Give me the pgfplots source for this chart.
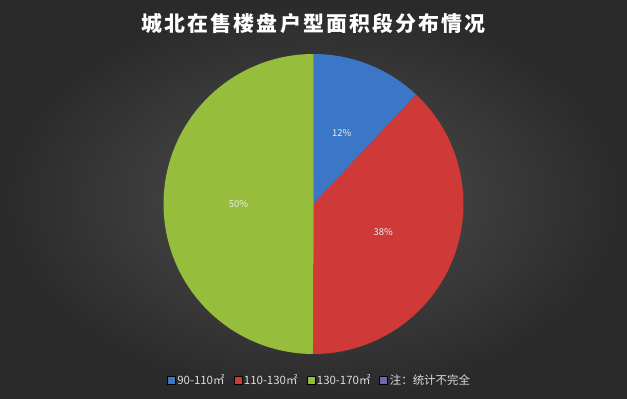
\documentclass[border=0pt]{standalone}
\usepackage{fontspec}
\setmainfont{Noto Sans CJK SC}
\newfontfamily\titlefont[LetterSpace=10]{Noto Sans CJK SC}
\usepackage{pgfplots}
\usepackage{pgfplotstable}
\pgfplotsset{compat=1.18}
\definecolor{pieblue}{RGB}{59,119,198}
\definecolor{piered}{RGB}{207,58,57}
\definecolor{piegreen}{RGB}{150,190,60}
\definecolor{piepurple}{RGB}{116,100,168}
\definecolor{bgin}{RGB}{80,80,80}
\definecolor{bgout}{RGB}{42,42,42}
\definecolor{legtext}{RGB}{220,220,220}
\pgfplotstableread{
label value
a 12
b 38
c 50
}\piedata
\begin{document}
\begin{tikzpicture}
\shade[inner color=bgin, outer color=bgout] (0bp,0bp) rectangle (627bp,399bp);
\node[text=white, font=\titlefont\fontsize{21}{24}\selectfont\bfseries] at (313.5bp,376bp) {城北在售楼盘户型面积段分布情况};
\pgfplotstablegetelem{0}{value}\of\piedata \let\va\pgfplotsretval
\pgfplotstablegetelem{1}{value}\of\piedata \let\vb\pgfplotsretval
\pgfplotstablegetelem{2}{value}\of\piedata \let\vc\pgfplotsretval
\pgfmathsetmacro\aA{90}
\pgfmathsetmacro\aB{90-3.6*\va}
\pgfmathsetmacro\aC{\aB-3.6*\vb}
\pgfmathsetmacro\aD{\aC-3.6*\vc}
\begin{axis}[at={(163.5bp,45bp)}, anchor=south west, width=300bp, height=300bp,
  scale only axis, xmin=-1, xmax=1, ymin=-1, ymax=1, hide axis, clip=false,
  legend columns=4,
  legend style={at={(0.52,-0.055)}, anchor=north, draw=none, fill=none,
    text=legtext, font=\fontsize{11.5}{13}\selectfont,
    /tikz/every even column/.append style={column sep=7bp}},
  legend image code/.code={\fill[#1] (0bp,-4bp) rectangle (8bp,4bp);},
  ]
\addplot[draw=none, fill=pieblue, domain=\aB:\aA, samples=80, variable=\t, forget plot] ({cos(\t)},{sin(\t)}) -- (axis cs:0,0) -- cycle;
\addplot[draw=none, fill=piered, domain=\aC:\aB, samples=120, variable=\t, forget plot] ({cos(\t)},{sin(\t)}) -- (axis cs:0,0) -- cycle;
\addplot[draw=none, fill=piegreen, domain=\aD:\aC, samples=160, variable=\t, forget plot] ({cos(\t)},{sin(\t)}) -- (axis cs:0,0) -- cycle;
\addplot[only marks, mark=none, forget plot, point meta=explicit symbolic,
  nodes near coords, nodes near coords style={anchor=center, text=white!92!black, font=\fontsize{9.5}{11}\selectfont}]
  coordinates {(0.188,0.474) [12\%] (0.465,-0.19) [38\%] (-0.5,0.0) [50\%]};
\addlegendimage{fill=pieblue}
\addlegendentry{90-110㎡}
\addlegendimage{fill=piered}
\addlegendentry{110-130㎡}
\addlegendimage{fill=piegreen}
\addlegendentry{130-170㎡}
\addlegendimage{fill=piepurple}
\addlegendentry{注：统计不完全}
\end{axis}
\end{tikzpicture}
\end{document}
